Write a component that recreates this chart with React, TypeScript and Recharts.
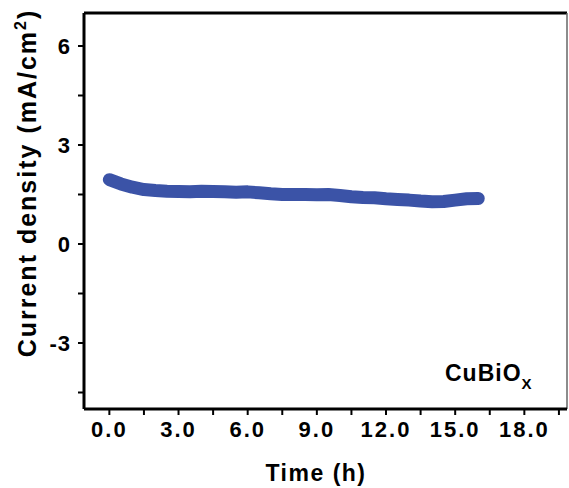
import React from "react"
import {
  LineChart,
  Line,
  XAxis,
  YAxis,
  ReferenceLine,
} from "recharts"

// time (h) and current density (mA/cm2)
const times = [
  0, 0.5, 1, 1.5, 2, 2.5, 3, 3.5, 4, 4.5, 5, 5.5, 6, 6.5, 7, 7.5, 8, 8.5,
  9, 9.5, 10, 10.5, 11, 11.5, 12, 12.5, 13, 13.5, 14, 14.5, 15, 15.5, 16,
]
const current = [
  1.95, 1.82, 1.72, 1.65, 1.62, 1.6, 1.59, 1.58, 1.6, 1.59, 1.58, 1.57, 1.58,
  1.55, 1.52, 1.5, 1.5, 1.5, 1.49, 1.5, 1.47, 1.43, 1.41, 1.4, 1.37, 1.35,
  1.33, 1.3, 1.28, 1.29, 1.33, 1.37, 1.38,
]

const xTicks = [0, 1.5, 3, 4.5, 6, 7.5, 9, 10.5, 12, 13.5, 15, 16.5, 18, 19.5]
const yTicks = [-4.5, -3, -1.5, 0, 1.5, 3, 4.5, 6]

const data = times.map((t, i) => ({ t, j: current[i] }))

const FONT = "'Liberation Sans', Arial, sans-serif"
const BLUE = "#3b53a7"

export default function App() {
  return (
    <div style={{ position: "absolute", left: 0, top: 0, background: "#fff" }}>
      <LineChart
        width={569}
        height={488}
        data={data}
        margin={{ top: 13, right: 2, bottom: 39, left: 24 }}
      >
        <XAxis
          dataKey="t"
          type="number"
          domain={[-1.1, 19.85]}
          ticks={xTicks}
          allowDataOverflow
          height={40}
          axisLine={{ stroke: "#000", strokeWidth: 3 }}
          tickLine={{ stroke: "#000", strokeWidth: 2 }}
          tickSize={6}
          tickMargin={6}
          tickFormatter={(v: number) => (v % 3 === 0 ? v.toFixed(1) : "")}
          tick={{
            fill: "#000",
            fontSize: 22,
            fontWeight: 700,
            fontFamily: FONT,
            letterSpacing: 2,
          }}
        />
        <YAxis
          type="number"
          domain={[-5, 7]}
          ticks={yTicks}
          allowDataOverflow
          width={60}
          axisLine={{ stroke: "#000", strokeWidth: 3 }}
          tickLine={{ stroke: "#000", strokeWidth: 2 }}
          tickSize={6}
          tickMargin={7}
          tickFormatter={(v: number) => (v % 3 === 0 ? String(v) : "")}
          tick={{
            fill: "#000",
            fontSize: 22,
            fontWeight: 700,
            fontFamily: FONT,
            letterSpacing: 1,
          }}
        />
        <ReferenceLine y={7} stroke="#000" strokeWidth={3} />
        <ReferenceLine x={19.85} stroke="#666" strokeWidth={1.5} />
        <Line
          dataKey="j"
          stroke={BLUE}
          strokeWidth={13}
          strokeLinecap="round"
          strokeLinejoin="round"
          dot={false}
          isAnimationActive={false}
        />
        <text
          x={316}
          y={481}
          textAnchor="middle"
          fontFamily={FONT}
          fontWeight={700}
          fontSize={23}
          letterSpacing={1.5}
          fill="#000"
        >
          Time (h)
        </text>
        <text
          transform="translate(36,183) rotate(-90)"
          textAnchor="middle"
          fontFamily={FONT}
          fontWeight={700}
          fontSize={25}
          letterSpacing={2}
          fill="#000"
        >
          Current density (mA/cm
          <tspan dy={-10} fontSize={16}>2</tspan>
          <tspan dy={10}>)</tspan>
        </text>
        <text
          x={445}
          y={381}
          fontFamily={FONT}
          fontWeight={700}
          fontSize={23}
          letterSpacing={1}
          fill="#000"
        >
          CuBiO
          <tspan dy={8} fontSize={15}>X</tspan>
        </text>
      </LineChart>
    </div>
  )
}
